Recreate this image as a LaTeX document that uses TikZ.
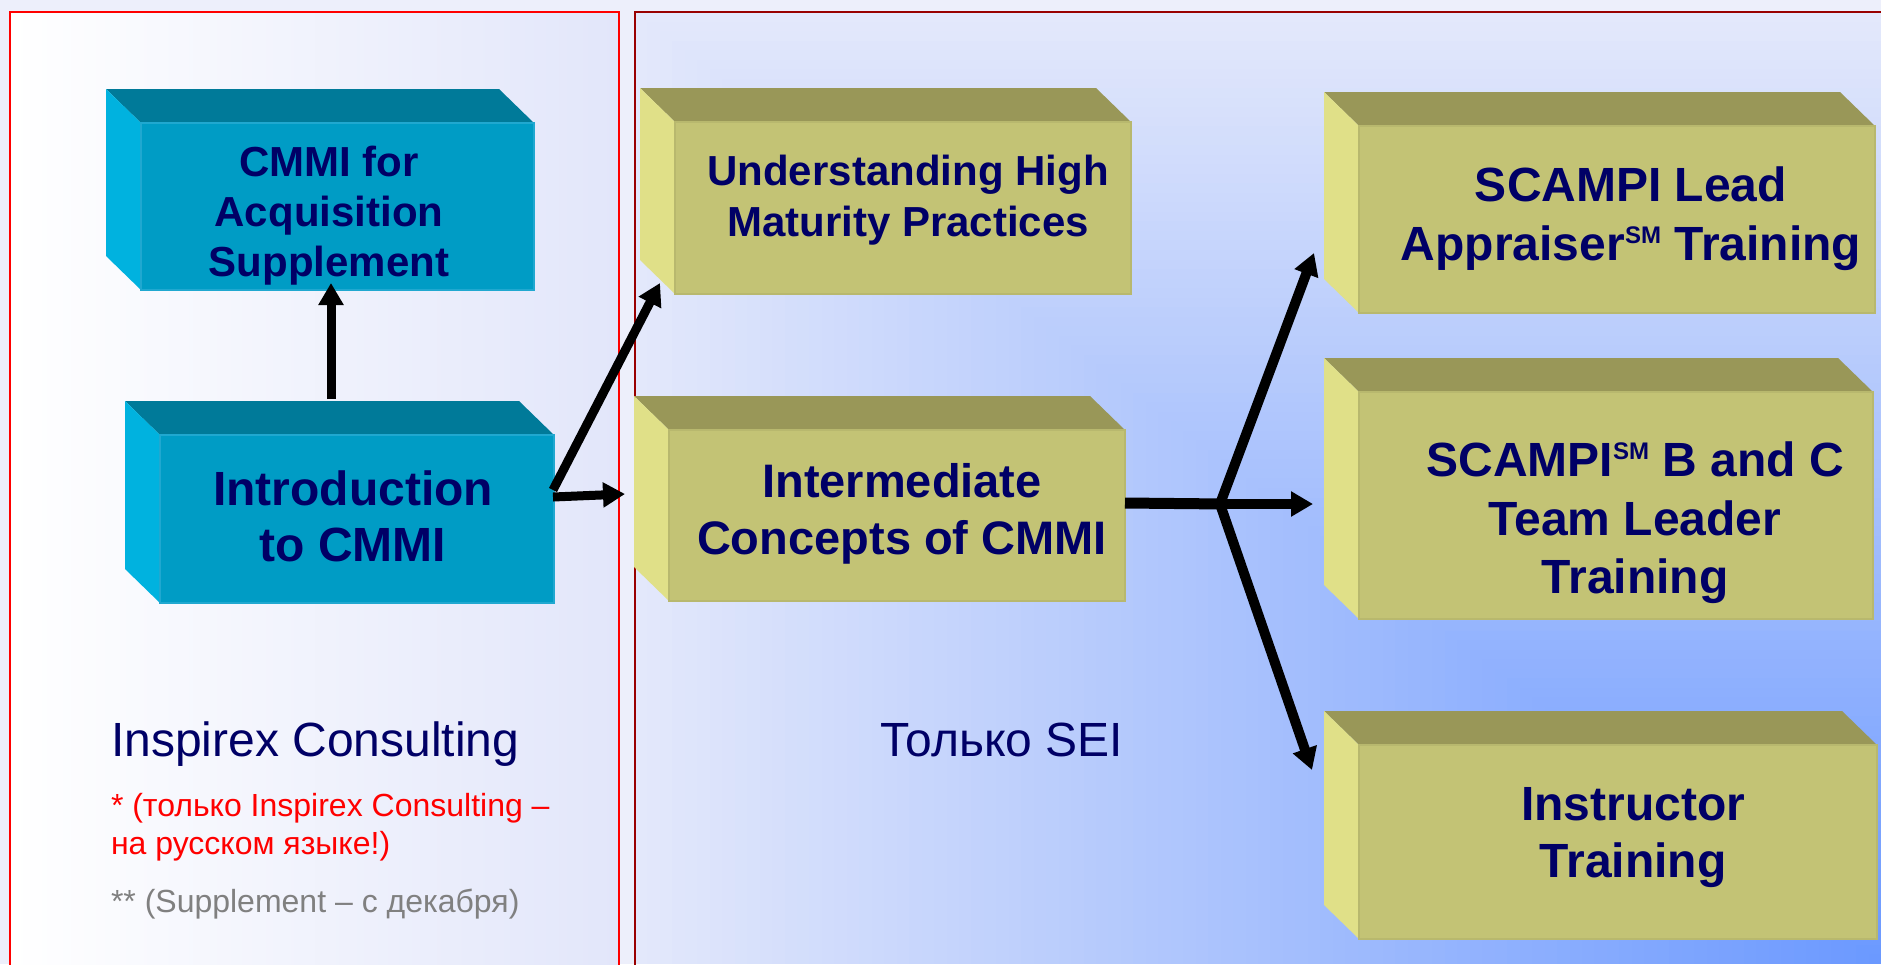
\documentclass[tikz,border=0pt]{standalone}
\usepackage{fontspec}
\setmainfont{Liberation Sans}
\usetikzlibrary{arrows.meta,calc}
\definecolor{navy}{HTML}{000066}
\definecolor{outerbg}{HTML}{EDEFFB}
\definecolor{lpR}{HTML}{E2E6FA}
\definecolor{rbA}{HTML}{E3E8FB}
\definecolor{rbB}{HTML}{6A98FF}
\definecolor{darkred}{HTML}{990000}
\definecolor{tealFront}{HTML}{009CC5}
\definecolor{tealTop}{HTML}{007A99}
\definecolor{tealSide}{HTML}{00B2DF}
\definecolor{tealEdge}{HTML}{20A8D0}
\definecolor{oliveFront}{HTML}{C3C375}
\definecolor{oliveTop}{HTML}{999758}
\definecolor{oliveSide}{HTML}{E0E088}
\definecolor{oliveEdge}{HTML}{B8B86E}
\definecolor{notegray}{HTML}{808080}
\newcommand{\mycube}[6]{%
  \fill[#6Top] (#2-35,#3-34) -- (#4-35,#3-34) -- (#4,#3) -- (#2,#3) -- cycle;
  \fill[#6Side] (#2-35,#3-34) -- (#2,#3) -- (#2,#5) -- (#2-35,#5-34) -- cycle;
  \node[frontface, fill=#6Front, draw=#6Edge, minimum width={#4-#2}, minimum height={#5-#3}, anchor=north west] (#1) at (#2,#3) {};
}
\newcommand{\smark}{\raisebox{17pt}{\fontsize{24}{24}\selectfont SM}}
\tikzset{
  frontface/.style={rectangle, inner sep=0pt, outer sep=0pt, line width=1.5pt},
  boxtext/.style={text=navy, align=center, inner sep=0pt},
  plaintext/.style={anchor=base west, inner sep=0pt, outer sep=0pt},
  arr/.style={line width=10pt, -{Triangle[length=22pt,width=24pt]}},
}
\begin{document}
\begin{tikzpicture}[x=1pt,y=-1pt]
\useasboundingbox (0,0) rectangle (1881,964);
\clip (0,0) rectangle (1881,964);
% backgrounds
\fill[outerbg] (0,0) rectangle (1881,964);
\shade[left color=white, right color=lpR] (10,12) rectangle (619,964);
\foreach \i in {0,...,99}{
  \fill[rbB!\i!rbA] ({635+\i*12.46},{12+\i*9.52}) rectangle (1881,964);
}
\draw[red, line width=2pt] (10,12) rectangle (619,1000);
\draw[darkred, line width=2pt] (635,12) rectangle (1900,1000);
% boxes
\mycube{acq}{141}{123}{534}{290}{teal}
\mycube{intro}{160}{435}{554}{603}{teal}
\mycube{under}{675}{122}{1131}{294}{olive}
\mycube{inter}{669}{430}{1125}{601}{olive}
\mycube{lead}{1359}{126}{1875}{313}{olive}
\mycube{bc}{1359}{392}{1873}{619}{olive}
\mycube{instr}{1359}{745}{1877}{939}{olive}
% box texts
\node[boxtext, font=\fontsize{42}{50}\selectfont\bfseries] (acqt) at (329,216) {CMMI for\\Acquisition\\Supplement};
\node[boxtext, font=\fontsize{48}{56}\selectfont\bfseries] (introt) at (353,516) {Introduction\\to CMMI};
\node[boxtext, font=\fontsize{42}{51}\selectfont\bfseries] (undert) at (908,200) {Understanding High\\Maturity Practices};
\node[boxtext, font=\fontsize{47}{57}\selectfont\bfseries] (intert) at (902,514) {Intermediate\\Concepts of CMMI};
\node[boxtext, font=\fontsize{48}{59}\selectfont\bfseries] (leadt) at (1631,219) {SCAMPI Lead\\Appraiser\smark{} Training};
\node[boxtext, font=\fontsize{48}{58.5}\selectfont\bfseries] (bct) at (1635,523) {SCAMPI\smark{} B and C\\Team Leader\\Training};
\node[boxtext, font=\fontsize{48}{57}\selectfont\bfseries] (instrt) at (1633,838) {Instructor\\Training};
% plain texts
\node[plaintext, text=navy, font=\fontsize{48}{58}\selectfont] (insp) at (111,756) {Inspirex Consulting};
\node[plaintext, text=navy, font=\fontsize{48}{58}\selectfont] (sei) at (880,756) {Только SEI};
\node[plaintext, text=red, align=left, font=\fontsize{32}{38}\selectfont] (note1) at (111,854) {* (только Inspirex Consulting –\\на русском языке!)};
\node[plaintext, text=notegray, font=\fontsize{32}{38}\selectfont] (note2) at (111,912) {** (Supplement – с декабря)};
% connectors
\coordinate (fork) at (1220,504);
\draw[arr, line width=9pt] ($(intro.north west)+(171,-36)$) -- ($(acq.south west)+(190,-7)$);
\draw[arr, line width=9pt] ($(intro.north east)+(-1,55)$) -- ($(under.south west)+(-15,-11)$);
\draw[arr, line width=9pt] ($(intro.north east)+(-1,62)$) -- ($(inter.north west)+(-44,64)$);
\draw[line width=11pt] ($(inter.north east)+(0,73)$) -- ($(fork)+(5,0)$);
\draw[arr] (fork) -- ($(lead.south west)+(-45,-60)$);
\draw[arr] (fork) -- ($(bc.north west)+(-46,112)$);
\draw[arr] (fork) -- ($(instr.north west)+(-47,25)$);
\end{tikzpicture}
\end{document}
